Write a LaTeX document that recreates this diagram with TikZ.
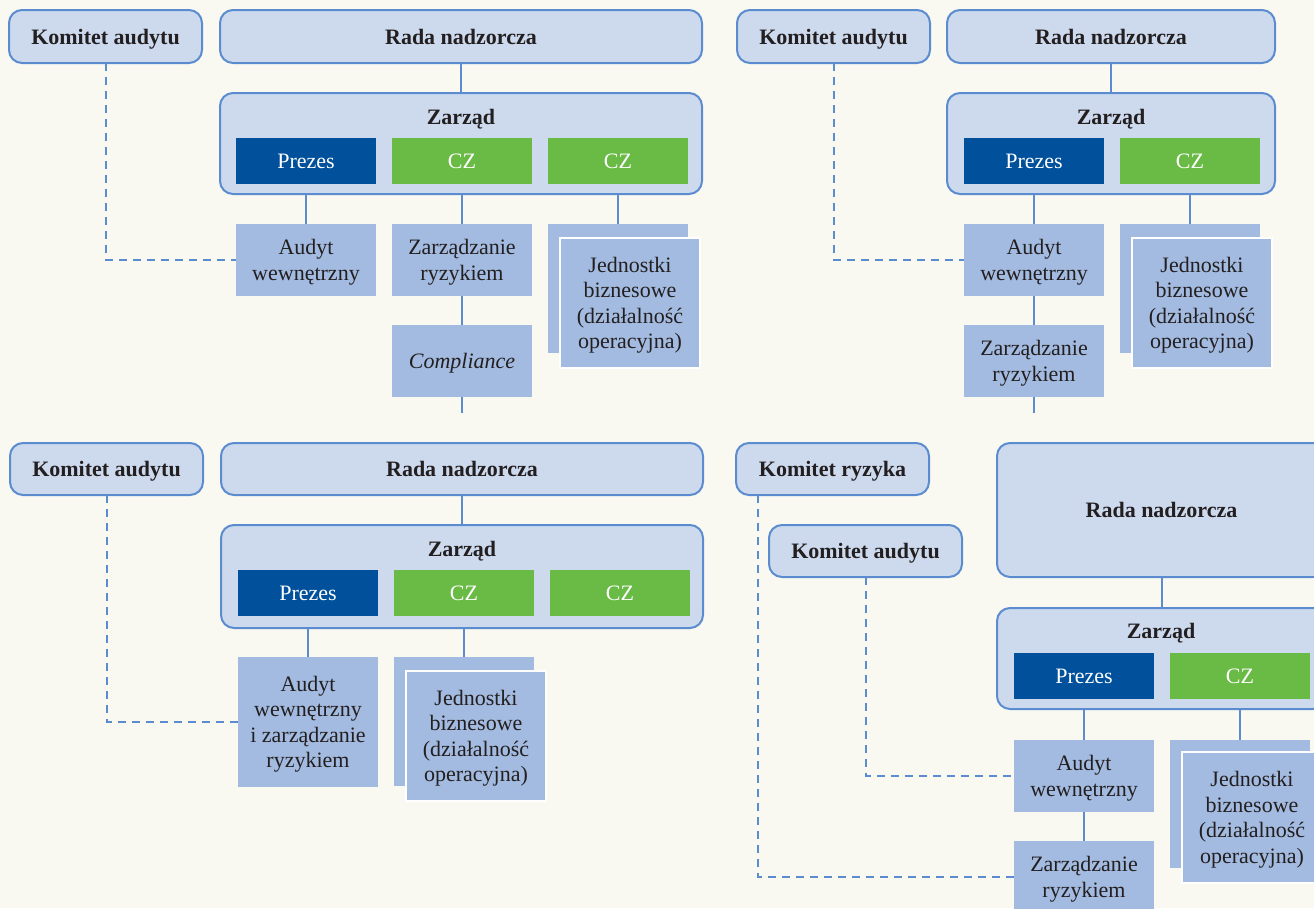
\documentclass[tikz,border=0pt]{standalone}
\usepackage{fontspec}
\setmainfont{Liberation Serif}
\definecolor{bg}{RGB}{249,249,241}
\definecolor{lite}{RGB}{205,218,238}
\definecolor{bord}{RGB}{91,140,207}
\definecolor{mid}{RGB}{163,187,224}
\definecolor{navy}{RGB}{0,80,155}
\definecolor{grn}{RGB}{106,186,70}
\definecolor{txt}{RGB}{35,31,32}
\tikzset{
  base/.style={inner sep=0pt, outer sep=0pt, anchor=north west, align=center, text=txt,
    text depth=0pt, font=\fontsize{22}{25.5}\selectfont},
  rbox/.style={base, draw=bord, fill=lite, line width=2pt, rounded corners=13pt,
    font=\fontsize{22}{25.5}\selectfont\bfseries},
  frame/.style={base, draw=bord, fill=lite, line width=2pt, rounded corners=13pt},
  pres/.style={base, fill=navy, text=white},
  czb/.style={base, fill=grn, text=white},
  sub/.style={base, fill=mid},
  subfront/.style={base, fill=mid, draw=white, line width=2pt},
  lbl/.style={inner sep=0pt, text=txt, text depth=0pt, font=\fontsize{22}{25.5}\selectfont\bfseries},
  conn/.style={draw=bord, line width=2pt},
  dconn/.style={conn, dash pattern=on 8pt off 6pt},
}
\newcommand\mybox[7]{\node[#1, minimum width=#5pt-#3pt, minimum height=#6pt-#4pt] (#2) at (#3,#4) {#7};}
\begin{document}
\begin{tikzpicture}[x=1pt,y=-1pt]
\useasboundingbox (0,0) rectangle (1314,908);
\clip (0,0) rectangle (1314,908);
\fill[bg] (0,0) rectangle (1314,908);

% ---------- Panel 1 (top left) ----------
\mybox{rbox}{k1}{9}{10}{202}{63}{Komitet audytu}
\mybox{rbox}{r1}{220}{10}{702}{63}{Rada nadzorcza}
\mybox{frame}{z1}{220}{93}{702}{194}{}
\node[lbl] (zl1) at (461,117) {Zarząd};
\mybox{pres}{p1}{236}{138}{376}{184}{Prezes}
\mybox{czb}{c1a}{392}{138}{532}{184}{CZ}
\mybox{czb}{c1b}{548}{138}{688}{184}{CZ}
\mybox{sub}{a1}{236}{224}{376}{296}{Audyt\\wewnętrzny}
\mybox{sub}{zr1}{392}{224}{532}{296}{Zarządzanie\\ryzykiem}
\mybox{sub}{co1}{392}{325}{532}{397}{\itshape Compliance}
\mybox{sub}{jb1}{548}{224}{688}{353}{}
\mybox{subfront}{jf1}{560}{238}{700}{368}{Jednostki\\biznesowe\\(działalność\\operacyjna)}
\coordinate (e1) at (462,413);
\draw[conn] (r1.south) -- (z1.north);
\draw[conn] (p1.south |- z1.south) -- (a1.north);
\draw[conn] (c1a.south |- z1.south) -- (zr1.north);
\draw[conn] (c1b.south |- z1.south) -- (jb1.north);
\draw[conn] (zr1.south) -- (co1.north);
\draw[conn] (co1.south) -- (e1);
\draw[dconn] (k1.south) |- (a1.west);

% ---------- Panel 2 (top right) ----------
\mybox{rbox}{k2}{737}{10}{930}{63}{Komitet audytu}
\mybox{rbox}{r2}{947}{10}{1275}{63}{Rada nadzorcza}
\mybox{frame}{z2}{947}{93}{1275}{194}{}
\node[lbl] (zl2) at (1111,117) {Zarząd};
\mybox{pres}{p2}{964}{138}{1104}{184}{Prezes}
\mybox{czb}{c2}{1120}{138}{1260}{184}{CZ}
\mybox{sub}{a2}{964}{224}{1104}{296}{Audyt\\wewnętrzny}
\mybox{sub}{zr2}{964}{325}{1104}{397}{Zarządzanie\\ryzykiem}
\mybox{sub}{jb2}{1120}{224}{1260}{353}{}
\mybox{subfront}{jf2}{1132}{238}{1272}{368}{Jednostki\\biznesowe\\(działalność\\operacyjna)}
\coordinate (e2) at (1034,413);
\draw[conn] (r2.south) -- (z2.north);
\draw[conn] (p2.south |- z2.south) -- (a2.north);
\draw[conn] (c2.south |- z2.south) -- (jb2.north);
\draw[conn] (a2.south) -- (zr2.north);
\draw[conn] (zr2.south) -- (e2);
\draw[dconn] (k2.south) |- (a2.west);

% ---------- Panel 3 (bottom left) ----------
\mybox{rbox}{k3}{10}{443}{203}{495}{Komitet audytu}
\mybox{rbox}{r3}{221}{443}{703}{495}{Rada nadzorcza}
\mybox{frame}{z3}{221}{525}{703}{628}{}
\node[lbl] (zl3) at (462,549) {Zarząd};
\mybox{pres}{p3}{238}{570}{378}{616}{Prezes}
\mybox{czb}{c3a}{394}{570}{534}{616}{CZ}
\mybox{czb}{c3b}{550}{570}{690}{616}{CZ}
\mybox{sub}{a3}{238}{657}{378}{787}{Audyt\\wewnętrzny\\i zarządzanie\\ryzykiem}
\mybox{sub}{jb3}{394}{657}{534}{786}{}
\mybox{subfront}{jf3}{406}{671}{546}{801}{Jednostki\\biznesowe\\(działalność\\operacyjna)}
\draw[conn] (r3.south) -- (z3.north);
\draw[conn] (p3.south |- z3.south) -- (a3.north);
\draw[conn] (c3a.south |- z3.south) -- (jb3.north);
\draw[dconn] (k3.south) |- (a3.west);

% ---------- Panel 4 (bottom right) ----------
\mybox{rbox}{kr4}{736}{443}{929}{495}{Komitet ryzyka}
\mybox{rbox}{ka4}{769}{525}{962}{577}{Komitet audytu}
\mybox{rbox}{r4}{997}{443}{1326}{577}{Rada nadzorcza}
\mybox{frame}{z4}{997}{608}{1326}{709}{}
\node[lbl] (zl4) at (1161,631) {Zarząd};
\mybox{pres}{p4}{1014}{653}{1154}{699}{Prezes}
\mybox{czb}{c4}{1170}{653}{1310}{699}{CZ}
\mybox{sub}{a4}{1014}{740}{1154}{812}{Audyt\\wewnętrzny}
\mybox{sub}{zr4}{1014}{841}{1154}{913}{Zarządzanie\\ryzykiem}
\mybox{sub}{jb4}{1170}{740}{1310}{868}{}
\mybox{subfront}{jf4}{1182}{752}{1322}{883}{Jednostki\\biznesowe\\(działalność\\operacyjna)}
\coordinate (krd) at (758,495);
\draw[conn] (r4.south) -- (z4.north);
\draw[conn] (p4.south |- z4.south) -- (a4.north);
\draw[conn] (c4.south |- z4.south) -- (jb4.north);
\draw[conn] (a4.south) -- (zr4.north);
\draw[dconn] (ka4.south) |- (a4.west);
\draw[dconn] (krd) |- (zr4.west);
\end{tikzpicture}
\end{document}
